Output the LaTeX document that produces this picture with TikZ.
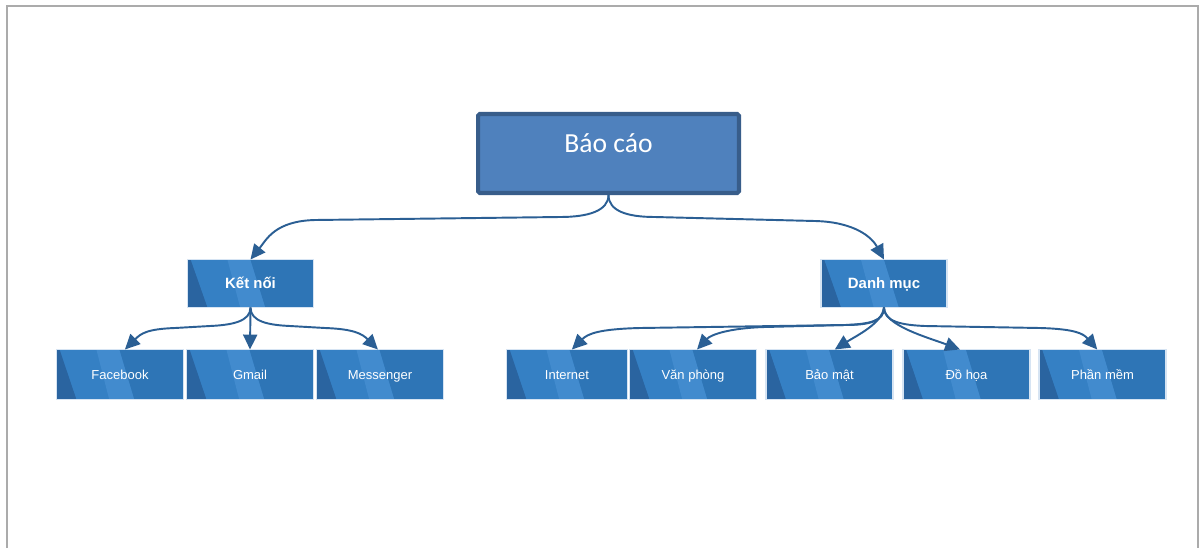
\documentclass[tikz,border=0pt]{standalone}
\usepackage{fontspec}
\setmainfont{Liberation Sans}
\newfontfamily\calibfont{Carlito}
\usetikzlibrary{arrows.meta,calc}

\definecolor{framegray}{HTML}{ABABAB}
\definecolor{rootfill}{HTML}{4F81BD}
\definecolor{rootedge}{HTML}{385D8A}
\definecolor{boxbase}{HTML}{2E75B6}
\definecolor{boxmid}{HTML}{3580C4}
\definecolor{boxdark}{HTML}{2A64A0}
\definecolor{boxlight}{HTML}{428BCE}
\definecolor{boxedge}{HTML}{D6E4F3}
\definecolor{linkblue}{HTML}{2B5F94}

\tikzset{
  rootbox/.style={draw=rootedge, fill=rootfill, line width=2.3pt,
    rounded corners=1pt, minimum width=5.22cm, minimum height=1.58cm,
    inner sep=0pt, outer sep=1.1pt},
  stripebox/.style={fill=boxbase, draw=boxedge, line width=0.6pt,
    inner sep=0pt, outer sep=0pt, text=white,
    text height=0.72em, text depth=0.2em,
    path picture={
      % lighter middle zone
      \fill[boxmid] ([xshift=1.7pt]path picture bounding box.north west)
        -- ([xshift=35.7pt]path picture bounding box.north west)
        -- ([xshift=44.2pt]path picture bounding box.south west)
        -- ([xshift=11.3pt]path picture bounding box.south west) -- cycle;
      % dark wedge on the left
      \fill[boxdark] (path picture bounding box.north west)
        -- ([xshift=1.7pt]path picture bounding box.north west)
        -- ([xshift=11.3pt]path picture bounding box.south west)
        -- (path picture bounding box.south west) -- cycle;
      % light slanted band
      \fill[boxlight] ([xshift=22.7pt]path picture bounding box.north west)
        -- ([xshift=35.7pt]path picture bounding box.north west)
        -- ([xshift=44.2pt]path picture bounding box.south west)
        -- ([xshift=30pt]path picture bounding box.south west) -- cycle;
    }},
  midbox/.style={stripebox, minimum width=2.52cm, minimum height=0.96cm,
    font=\fontsize{8.5pt}{10pt}\selectfont\bfseries},
  leafbox/.style={stripebox, minimum width=2.54cm, minimum height=1.0cm,
    font=\fontsize{7.4pt}{9pt}\selectfont},
  link/.style={draw=linkblue, line width=1.1pt,
    -{Triangle[length=8.5pt,width=8pt]}},
}

\begin{document}
\begin{tikzpicture}[x=0.02cm, y=-0.02cm]
  \useasboundingbox (0,0) rectangle (1200,548);
  \fill[white] (0,0) rectangle (1200,548);

  % page frame
  \draw[framegray, line width=1.2pt] (7,548) -- (7,6) -- (1198,6) -- (1198,548);

  % top level
  \node[rootbox, label={[text=white, font=\calibfont\fontsize{15.7pt}{18pt}\selectfont, yshift=5.7pt]center:Báo cáo}]
    (root) at (608.5,153.5) {};

  % second level
  \node[midbox] (ket) at (250.5,283.5) {Kết nối};
  \node[midbox] (dm)  at (884,283.5)   {Danh mục};

  % leaves
  \node[leafbox] (fb)   at (120,374.5)  {Facebook};
  \node[leafbox] (gm)   at (250,374.5)  {Gmail};
  \node[leafbox] (ms)   at (380,374.5)  {Messenger};
  \node[leafbox, minimum width=2.42cm] (inet) at (567,374.5) {Internet};
  \node[leafbox] (vp)   at (693,374.5)  {Văn phòng};
  \node[leafbox] (bm)   at (829.5,374.5) {Bảo mật};
  \node[leafbox] (dh)   at (966.5,374.5) {Đồ họa};
  \node[leafbox] (pm)   at (1102.5,374.5) {Phần mềm};

  % connectors from the top box: quick turn, long run, bend into the target
  \draw[link] (root.south) .. controls +(0,16) and +(28,0) .. (560,217)
    -- (315,220) .. controls +(-40,1) and +(16,-20) .. (ket.north);
  \draw[link] (root.south) .. controls +(0,16) and +(-28,0) .. (655,217)
    -- (815,221) .. controls +(40,1) and +(-12,-22) .. (dm.north);

  % connectors from "Kết nối"
  \draw[link] (ket.south) .. controls +(0,14) and +(22,-1) .. (210,326)
    -- (175,328) .. controls +(-28,1) and +(16,-16) .. ([xshift=2.8pt]fb.north);
  \draw[link] (ket.south) -- (gm.north);
  \draw[link] (ket.south) .. controls +(0,14) and +(-22,-1) .. (290,326)
    -- (325,328) .. controls +(28,1) and +(-16,-16) .. ([xshift=-1.2pt]ms.north);

  % connectors from "Danh mục"
  \draw[link] (dm.south) .. controls +(0,14) and +(24,0) .. (845,325)
    -- (640,328) .. controls +(-40,1) and +(16,-16) .. ([xshift=2.8pt]inet.north);
  \draw[link] (dm.south) .. controls +(0,14) and +(24,-1) .. (845,325)
    -- (765,327) .. controls +(-35,1) and +(14,-15) .. ([xshift=2.3pt]vp.north);
  \draw[link] (dm.south) .. controls +(-2,16) and +(22,-14) .. ([xshift=3pt]bm.north);
  \draw[link] (dm.south) .. controls +(0,18) and +(-32,-12) .. ([xshift=-3.7pt]dh.north);
  \draw[link] (dm.south) .. controls +(0,14) and +(-24,-1) .. (925,326)
    -- (1040,328) .. controls +(35,1) and +(-14,-16) .. ([xshift=-3pt]pm.north);
\end{tikzpicture}
\end{document}
